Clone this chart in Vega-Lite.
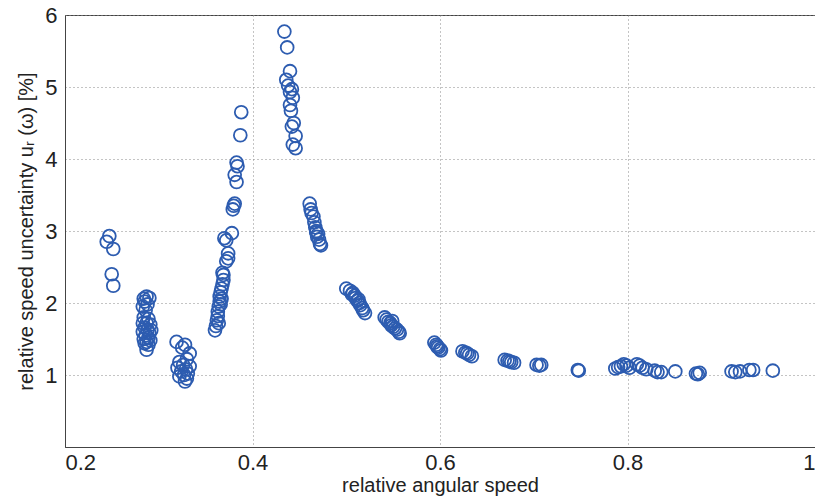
{
  "$schema": "https://vega.github.io/schema/vega-lite/v6.json",
  "width": 750,
  "height": 432,
  "autosize": {"type": "none"},
  "padding": {"left": 65, "top": 15, "right": 0, "bottom": 55},
  "background": "white",
  "config": {
    "view": {"stroke": "#444", "strokeWidth": 1},
    "font": "Liberation Sans"
  },
  "data": {"values": [
    {"x":0.2445,"y":2.85},{"x":0.2473,"y":2.93},{"x":0.2515,"y":2.75},{"x":0.2498,"y":2.40},{"x":0.2515,"y":2.24},
    {"x":0.287,"y":2.09},{"x":0.284,"y":2.06},{"x":0.290,"y":2.07},{"x":0.285,"y":2.02},{"x":0.288,"y":1.98},{"x":0.283,"y":1.95},{"x":0.286,"y":1.90},{"x":0.284,"y":1.80},{"x":0.289,"y":1.78},{"x":0.287,"y":1.72},{"x":0.291,"y":1.70},{"x":0.285,"y":1.66},{"x":0.288,"y":1.63},{"x":0.283,"y":1.60},{"x":0.290,"y":1.58},{"x":0.286,"y":1.55},{"x":0.289,"y":1.52},{"x":0.284,"y":1.50},{"x":0.291,"y":1.48},{"x":0.287,"y":1.46},{"x":0.285,"y":1.44},{"x":0.289,"y":1.42},{"x":0.287,"y":1.35},{"x":0.292,"y":1.62},{"x":0.283,"y":1.72},
    {"x":0.319,"y":1.46},{"x":0.328,"y":1.42},{"x":0.325,"y":1.38},{"x":0.333,"y":1.30},{"x":0.330,"y":1.22},{"x":0.322,"y":1.18},{"x":0.326,"y":1.14},{"x":0.320,"y":1.10},{"x":0.329,"y":1.08},{"x":0.324,"y":1.05},{"x":0.331,"y":1.02},{"x":0.327,"y":1.00},{"x":0.322,"y":0.98},{"x":0.330,"y":0.95},{"x":0.328,"y":0.91},{"x":0.333,"y":1.12},
    {"x":0.360,"y":1.62},{"x":0.361,"y":1.68},{"x":0.362,"y":1.76},{"x":0.363,"y":1.82},{"x":0.363,"y":1.88},{"x":0.364,"y":1.95},{"x":0.365,"y":2.02},{"x":0.365,"y":2.09},{"x":0.366,"y":2.15},{"x":0.367,"y":2.20},{"x":0.368,"y":2.26},{"x":0.369,"y":2.32},{"x":0.369,"y":2.39},{"x":0.368,"y":2.42},{"x":0.372,"y":2.58},{"x":0.374,"y":2.62},{"x":0.374,"y":2.69},{"x":0.372,"y":2.87},{"x":0.370,"y":2.90},{"x":0.378,"y":2.97},{"x":0.379,"y":3.30},{"x":0.381,"y":3.38},{"x":0.380,"y":3.35},{"x":0.383,"y":3.68},{"x":0.381,"y":3.78},{"x":0.384,"y":3.90},{"x":0.383,"y":3.95},{"x":0.387,"y":4.33},{"x":0.388,"y":4.65},{"x":0.364,"y":1.72},{"x":0.366,"y":1.98},{"x":0.367,"y":2.06},
    {"x":0.434,"y":5.77},{"x":0.437,"y":5.55},{"x":0.440,"y":5.22},{"x":0.436,"y":5.10},{"x":0.438,"y":5.02},{"x":0.442,"y":4.97},{"x":0.440,"y":4.93},{"x":0.443,"y":4.85},{"x":0.440,"y":4.75},{"x":0.441,"y":4.67},{"x":0.444,"y":4.50},{"x":0.442,"y":4.45},{"x":0.446,"y":4.32},{"x":0.443,"y":4.20},{"x":0.446,"y":4.15},
    {"x":0.461,"y":3.38},{"x":0.462,"y":3.30},{"x":0.463,"y":3.25},{"x":0.465,"y":3.20},{"x":0.466,"y":3.12},{"x":0.467,"y":3.05},{"x":0.468,"y":3.00},{"x":0.470,"y":2.96},{"x":0.469,"y":2.92},{"x":0.471,"y":2.88},{"x":0.472,"y":2.82},{"x":0.473,"y":2.80},{"x":0.468,"y":2.98},
    {"x":0.500,"y":2.20},{"x":0.504,"y":2.17},{"x":0.507,"y":2.14},{"x":0.509,"y":2.10},{"x":0.510,"y":2.07},{"x":0.512,"y":2.03},{"x":0.514,"y":2.00},{"x":0.515,"y":1.97},{"x":0.517,"y":1.93},{"x":0.518,"y":1.90},{"x":0.520,"y":1.86},{"x":0.506,"y":2.12},{"x":0.513,"y":2.05},
    {"x":0.541,"y":1.80},{"x":0.543,"y":1.77},{"x":0.545,"y":1.74},{"x":0.547,"y":1.72},{"x":0.548,"y":1.69},{"x":0.550,"y":1.67},{"x":0.552,"y":1.65},{"x":0.554,"y":1.63},{"x":0.556,"y":1.60},{"x":0.557,"y":1.58},{"x":0.549,"y":1.75},
    {"x":0.594,"y":1.45},{"x":0.596,"y":1.42},{"x":0.597,"y":1.40},{"x":0.598,"y":1.38},{"x":0.600,"y":1.36},{"x":0.601,"y":1.34},
    {"x":0.624,"y":1.33},{"x":0.627,"y":1.31},{"x":0.629,"y":1.30},{"x":0.631,"y":1.28},{"x":0.634,"y":1.26},
    {"x":0.669,"y":1.21},{"x":0.672,"y":1.20},{"x":0.674,"y":1.19},{"x":0.676,"y":1.18},{"x":0.679,"y":1.17},
    {"x":0.703,"y":1.14},{"x":0.706,"y":1.13},{"x":0.708,"y":1.14},
    {"x":0.747,"y":1.07},{"x":0.748,"y":1.06},
    {"x":0.787,"y":1.09},{"x":0.790,"y":1.11},{"x":0.793,"y":1.12},{"x":0.796,"y":1.15},{"x":0.799,"y":1.13},{"x":0.802,"y":1.10},
    {"x":0.810,"y":1.15},{"x":0.813,"y":1.13},{"x":0.816,"y":1.10},{"x":0.820,"y":1.08},
    {"x":0.829,"y":1.06},{"x":0.832,"y":1.04},{"x":0.836,"y":1.04},
    {"x":0.851,"y":1.05},
    {"x":0.873,"y":1.02},{"x":0.875,"y":1.01},{"x":0.877,"y":1.03},
    {"x":0.911,"y":1.05},{"x":0.915,"y":1.04},{"x":0.920,"y":1.05},
    {"x":0.930,"y":1.07},{"x":0.934,"y":1.07},
    {"x":0.955,"y":1.06}
  ]},
  "mark": {"type": "point", "shape": "circle", "filled": false, "size": 165, "stroke": "#2d5cb0", "strokeWidth": 1.8, "opacity": 1},
  "encoding": {
    "x": {
      "field": "x", "type": "quantitative",
      "scale": {"domain": [0.2, 1], "nice": false, "zero": false},
      "axis": {
        "values": [0.2, 0.4, 0.6, 0.8, 1],
        "labelExpr": "datum.value == 1 ? '1' : format(datum.value, '.1f')",
        "title": "relative angular speed",
        "titleFontSize": 20, "titleFontWeight": "normal", "titleColor": "#222", "titlePadding": 2,
        "labelFontSize": 22, "labelColor": "#222", "labelPadding": 5,
        "ticks": false, "domainColor": "#444",
        "grid": true, "gridDash": [1, 3], "gridColor": "#888", "gridWidth": 1
      }
    },
    "y": {
      "field": "y", "type": "quantitative",
      "scale": {"domain": [0, 6], "nice": false},
      "axis": {
        "values": [0, 1, 2, 3, 4, 5, 6],
        "labelExpr": "datum.value == 0 ? '' : datum.label",
        "title": "relative speed uncertainty uᵣ (ω) [%]",
        "titleFontSize": 20, "titleFontWeight": "normal", "titleColor": "#222", "titlePadding": 8,
        "labelFontSize": 22, "labelColor": "#222", "labelPadding": 8,
        "ticks": false, "domainColor": "#444",
        "grid": true, "gridDash": [1, 3], "gridColor": "#888", "gridWidth": 1
      }
    }
  }
}
